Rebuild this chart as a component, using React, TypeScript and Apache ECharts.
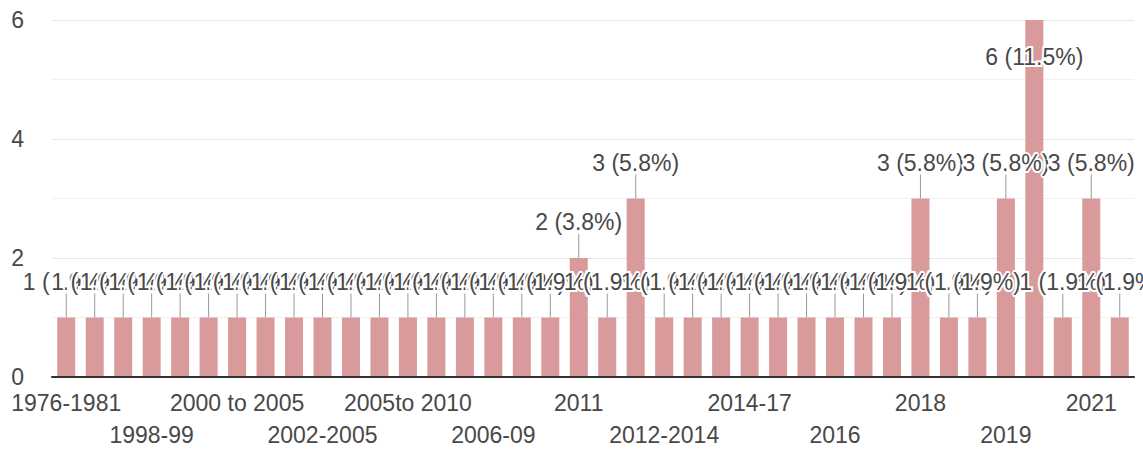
import React, { useEffect, useRef } from "react";
import * as echarts from "echarts";

const categories = [
  "1976-1981", "1985", "1990-1995", "1998-99", "1999", "2000", "2000 to 2005", "2000-2003",
  "2001", "2002-2005", "2003", "2005", "2005to 2010", "2006", "2006 to 2010", "2006-09",
  "2008", "2010", "2011", "2012", "2012-13", "2012-2014", "2013", "2014", "2014-17",
  "2015", "2015-16", "2016", "2016-17", "2017", "2018", "2018-19", "2018-2019", "2019",
  "2020", "2020-21", "2021", "2022",
];
const counts = [
  1, 1, 1, 1, 1, 1, 1, 1, 1, 1, 1, 1, 1, 1, 1, 1, 1, 1,
  2, 1, 3, 1, 1, 1, 1, 1, 1, 1, 1, 1, 3, 1, 1, 3, 6, 1, 3, 1,
];
const yTicks = [0, 2, 4, 6];

const FONT = "'Liberation Sans', Arial, sans-serif";
const TEXT = "#484848";
const FS = 23;

export default function App() {
  const ref = useRef<HTMLDivElement>(null);
  useEffect(() => {
    if (!ref.current) return;
    const chart = echarts.init(ref.current, undefined, { renderer: "svg" });
    const total = counts.reduce((a, b) => a + b, 0);
    const yMax = yTicks[yTicks.length - 1];
    const labelStyle = {
      color: TEXT,
      fontFamily: FONT,
      fontSize: FS,
      hideOverlap: false,
      showMinLabel: true,
      showMaxLabel: true,
    };
    chart.setOption({
      animation: false,
      grid: { left: 52, right: 9, top: 20, bottom: 72, containLabel: false },
      xAxis: [
        {
          type: "category",
          data: categories,
          boundaryGap: true,
          axisTick: { show: false },
          axisLine: { show: true, lineStyle: { color: "#333", width: 2 } },
          axisLabel: {
            ...labelStyle,
            interval: (i: number) => i % 6 === 0,
            margin: 14,
          },
          splitLine: { show: false },
          z: 5,
        },
        {
          type: "category",
          data: categories,
          boundaryGap: true,
          position: "bottom",
          axisTick: { show: false },
          axisLine: { show: false },
          axisLabel: {
            ...labelStyle,
            interval: (i: number) => i % 6 === 3,
            margin: 46,
          },
          splitLine: { show: false },
        },
      ],
      yAxis: {
        type: "value",
        min: yTicks[0],
        max: yMax,
        interval: 2,
        axisLine: { show: false },
        axisTick: { show: false },
        axisLabel: { color: TEXT, fontFamily: FONT, fontSize: FS, margin: 28 },
        splitLine: { lineStyle: { color: "#e6e6e6", width: 1 } },
        minorTick: { show: false, splitNumber: 2 },
        minorSplitLine: { show: true, lineStyle: { color: "#f0f0f0", width: 1 } },
      },
      series: [
        {
          type: "bar",
          data: counts,
          xAxisIndex: 0,
          barWidth: 18,
          itemStyle: { color: "#d89a9a" },
          z: 2,
        },
        {
          type: "custom",
          xAxisIndex: 0,
          data: counts.map((v, i) => [i, v]),
          z: 3,
          renderItem: (params: any, api: any) => {
            const idx = api.value(0);
            const v = api.value(1);
            const top = api.coord([idx, v]);
            const text = `${v} (${((v / total) * 100).toFixed(1)}%)`;
            const inside = v >= yMax;
            const children: any[] = [];
            if (!inside) {
              children.push({
                type: "line",
                shape: { x1: top[0], y1: top[1] - 24, x2: top[0], y2: top[1] },
                style: { stroke: "#999", lineWidth: 1 },
              });
            }
            children.push({
              type: "text",
              style: {
                text,
                x: top[0],
                y: inside ? top[1] + 37 : top[1] - 36,
                align: "center",
                verticalAlign: "middle",
                fill: TEXT,
                font: `${FS}px ${FONT}`,
                stroke: "#fff",
                lineWidth: 4,
              },
            });
            return { type: "group", children };
          },
        },
      ],
    });
    return () => chart.dispose();
  }, []);
  return (
    <div
      ref={ref}
      style={{ position: "absolute", left: 0, top: 0, width: 1143, height: 449, background: "#fff" }}
    />
  );
}
